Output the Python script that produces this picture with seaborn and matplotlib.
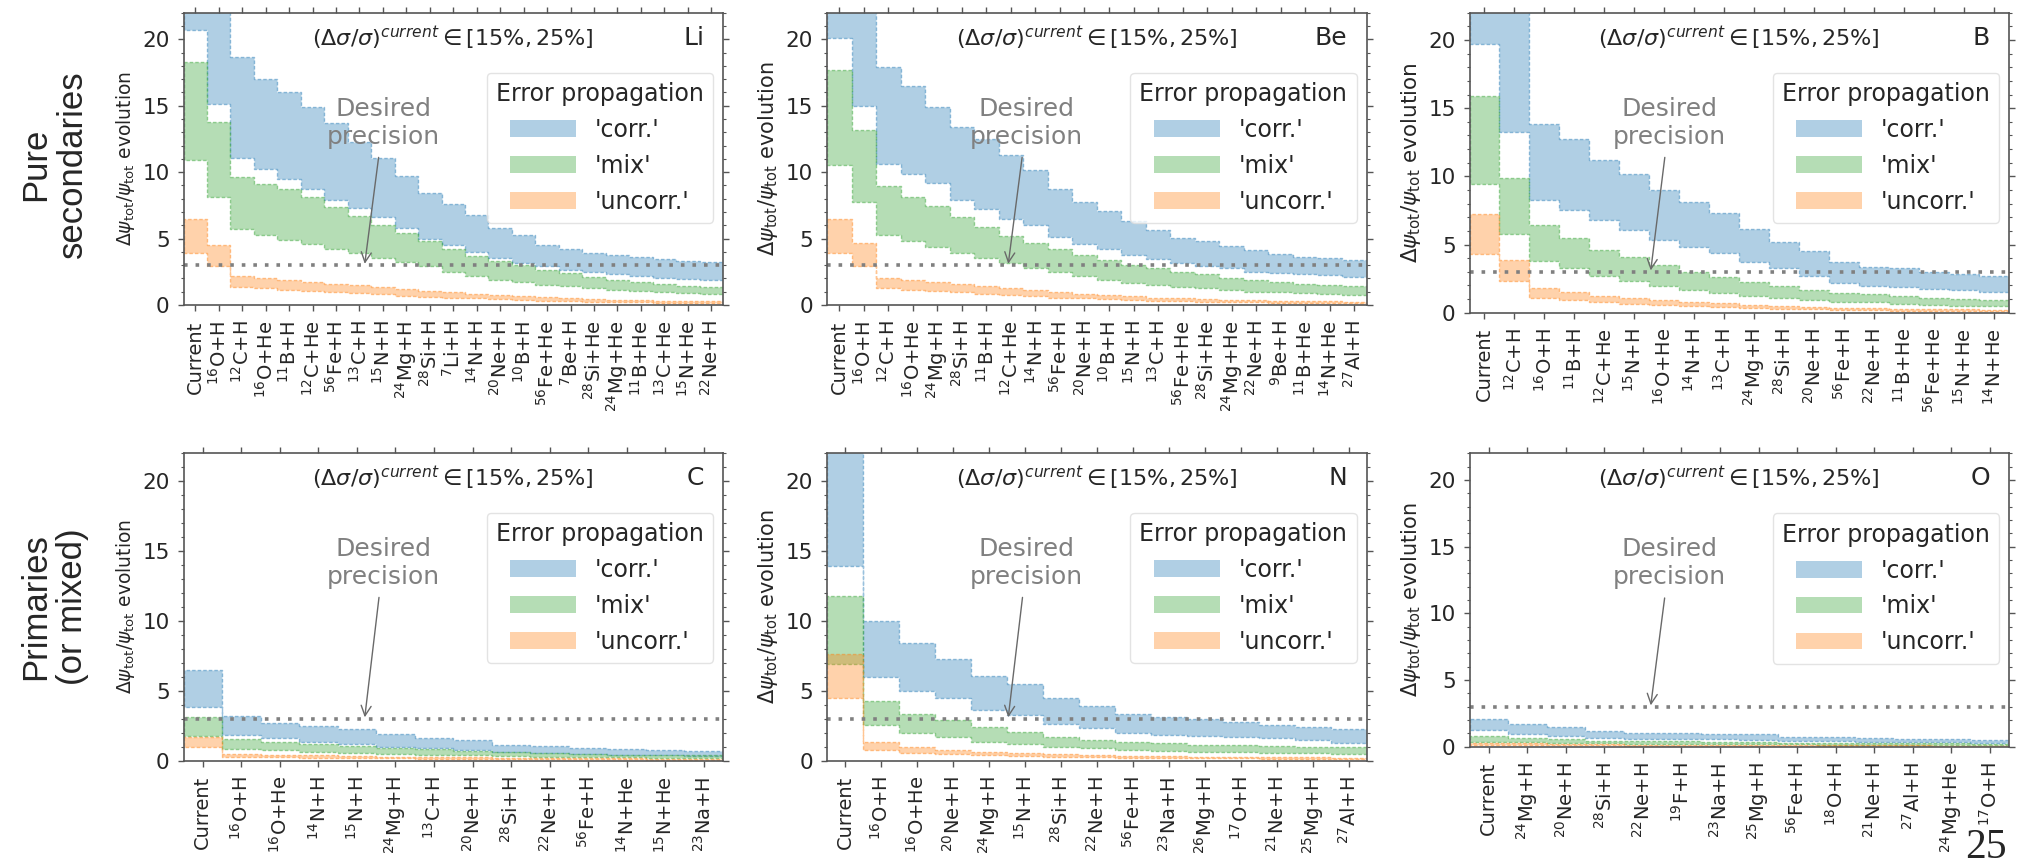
import re
import numpy as np
import matplotlib
matplotlib.use("Agg")
import matplotlib.pyplot as plt
import seaborn as sns
from matplotlib.colors import to_rgba
from matplotlib.patches import Patch
from matplotlib.ticker import MultipleLocator, AutoMinorLocator

# ---------------- data ----------------
li_labels = ['Current', '16O+H', '12C+H', '16O+He', '11B+H', '12C+He', '56Fe+H', '13C+H', '15N+H',
             '24Mg+H', '28Si+H', '7Li+H', '14N+H', '20Ne+H', '10B+H', '56Fe+He', '7Be+H', '28Si+He',
             '24Mg+He', '11B+He', '13C+He', '15N+He', '22Ne+H']
li_corr_hi = [23, 23, 18.7, 17.0, 16.0, 14.9, 13.7, 12.3, 11.1, 9.7, 8.4, 7.6, 6.75, 5.8, 5.25, 4.5, 4.2, 3.95, 3.75, 3.6, 3.45, 3.3, 3.2]
li_corr_lo = [20.7, 15.1, 11.1, 10.25, 9.5, 8.75, 7.9, 7.3, 6.6, 5.8, 5.0, 4.5, 4.0, 3.55, 3.15, 2.9, 2.65, 2.45, 2.3, 2.15, 2.05, 1.95, 1.85]
li_mix_hi = [18.3, 13.75, 9.6, 9.1, 8.75, 8.1, 7.4, 6.7, 6.0, 5.4, 4.8, 4.25, 3.7, 3.3, 3.0, 2.6, 2.4, 2.1, 1.9, 1.75, 1.6, 1.45, 1.35]
li_mix_lo = [10.9, 8.1, 5.7, 5.25, 4.9, 4.6, 4.25, 3.9, 3.5, 3.25, 2.9, 2.5, 2.2, 1.9, 1.75, 1.5, 1.4, 1.25, 1.1, 1.05, 1.0, 0.9, 0.85]
li_unc_hi = [6.5, 4.5, 2.2, 2.05, 1.9, 1.75, 1.6, 1.5, 1.35, 1.2, 1.05, 0.95, 0.85, 0.75, 0.65, 0.58, 0.5, 0.45, 0.4, 0.36, 0.33, 0.3, 0.28]
li_unc_lo = [3.9, 2.9, 1.35, 1.25, 1.15, 1.05, 0.95, 0.9, 0.8, 0.7, 0.6, 0.55, 0.5, 0.42, 0.38, 0.32, 0.28, 0.25, 0.22, 0.2, 0.18, 0.16, 0.15]

be_labels = ['Current', '16O+H', '12C+H', '16O+He', '24Mg+H', '28Si+H', '11B+H', '12C+He', '14N+H',
             '56Fe+H', '20Ne+H', '10B+H', '15N+H', '13C+H', '56Fe+He', '28Si+He', '24Mg+He', '22Ne+H',
             '9Be+H', '11B+He', '14N+He', '27Al+H']
be_corr_hi = [23, 23, 17.9, 16.5, 14.9, 13.4, 12.5, 11.3, 10.15, 8.7, 7.75, 7.1, 6.35, 5.65, 5.05, 4.85, 4.45, 4.15, 3.85, 3.65, 3.5, 3.4]
be_corr_lo = [20.1, 15.0, 10.65, 9.85, 9.2, 7.9, 7.2, 6.5, 6.0, 5.15, 4.6, 4.2, 3.75, 3.45, 3.15, 2.95, 2.75, 2.5, 2.4, 2.35, 2.25, 2.1]
be_mix_hi = [17.7, 13.15, 8.95, 8.15, 7.45, 6.65, 5.9, 5.2, 4.7, 4.2, 3.75, 3.4, 3.0, 2.75, 2.5, 2.35, 2.0, 1.85, 1.7, 1.6, 1.5, 1.4]
be_mix_lo = [10.5, 7.75, 5.25, 4.85, 4.35, 3.9, 3.5, 3.15, 2.75, 2.45, 2.15, 1.9, 1.65, 1.5, 1.35, 1.25, 1.15, 1.0, 0.95, 0.9, 0.85, 0.75]
be_unc_hi = [6.5, 4.7, 2.0, 1.85, 1.7, 1.55, 1.4, 1.25, 1.1, 0.95, 0.85, 0.75, 0.65, 0.55, 0.5, 0.45, 0.4, 0.36, 0.33, 0.3, 0.28, 0.26]
be_unc_lo = [3.9, 2.9, 1.25, 1.15, 1.05, 0.95, 0.85, 0.75, 0.65, 0.55, 0.5, 0.42, 0.36, 0.3, 0.27, 0.24, 0.21, 0.19, 0.17, 0.15, 0.14, 0.13]

b_labels = ['Current', '12C+H', '16O+H', '11B+H', '12C+He', '15N+H', '16O+He', '14N+H', '13C+H',
            '24Mg+H', '28Si+H', '20Ne+H', '56Fe+H', '22Ne+H', '11B+He', '56Fe+He', '15N+He', '14N+He']
b_corr_hi = [23, 23, 13.85, 12.75, 11.2, 10.2, 9.0, 8.1, 7.3, 6.15, 5.2, 4.55, 3.75, 3.35, 3.25, 3.0, 2.85, 2.7]
b_corr_lo = [19.7, 13.25, 8.25, 7.55, 6.8, 6.1, 5.35, 4.85, 4.4, 3.75, 3.25, 2.7, 2.2, 1.95, 1.9, 1.75, 1.65, 1.55]
b_mix_hi = [15.9, 9.9, 6.4, 5.45, 4.6, 4.05, 3.5, 3.0, 2.65, 2.25, 1.95, 1.7, 1.45, 1.35, 1.2, 1.1, 1.0, 0.9]
b_mix_lo = [9.45, 5.8, 3.8, 3.25, 2.7, 2.35, 1.95, 1.7, 1.45, 1.2, 1.05, 0.9, 0.8, 0.75, 0.65, 0.55, 0.5, 0.5]
b_unc_hi = [7.25, 3.9, 1.8, 1.5, 1.25, 1.1, 0.95, 0.8, 0.7, 0.6, 0.5, 0.43, 0.37, 0.33, 0.3, 0.27, 0.25, 0.23]
b_unc_lo = [4.3, 2.35, 1.05, 0.9, 0.75, 0.65, 0.55, 0.47, 0.4, 0.34, 0.28, 0.24, 0.2, 0.18, 0.16, 0.15, 0.13, 0.12]

c_labels = ['Current', '16O+H', '16O+He', '14N+H', '15N+H', '24Mg+H', '13C+H', '20Ne+H', '28Si+H',
            '22Ne+H', '56Fe+H', '14N+He', '15N+He', '23Na+H']
c_corr_hi = [6.5, 3.2, 2.7, 2.45, 2.25, 1.9, 1.65, 1.45, 1.15, 1.05, 0.9, 0.82, 0.77, 0.72]
c_corr_lo = [3.85, 1.85, 1.6, 1.35, 1.2, 1.0, 0.9, 0.75, 0.62, 0.52, 0.45, 0.4, 0.38, 0.35]
c_mix_hi = [3.1, 1.55, 1.35, 1.2, 1.05, 0.92, 0.82, 0.72, 0.62, 0.55, 0.48, 0.44, 0.41, 0.38]
c_mix_lo = [1.8, 0.85, 0.75, 0.65, 0.58, 0.5, 0.44, 0.38, 0.33, 0.29, 0.26, 0.24, 0.22, 0.2]
c_unc_hi = [1.7, 0.5, 0.42, 0.38, 0.34, 0.3, 0.27, 0.24, 0.21, 0.19, 0.17, 0.16, 0.15, 0.14]
c_unc_lo = [0.95, 0.28, 0.24, 0.21, 0.19, 0.17, 0.15, 0.13, 0.12, 0.1, 0.09, 0.09, 0.08, 0.08]

n_labels = ['Current', '16O+H', '16O+He', '20Ne+H', '24Mg+H', '15N+H', '28Si+H', '22Ne+H', '56Fe+H',
            '23Na+H', '26Mg+H', '17O+H', '21Ne+H', '25Mg+H', '27Al+H']
n_corr_hi = [23, 10.0, 8.4, 7.3, 6.05, 5.5, 4.45, 3.9, 3.35, 3.1, 2.95, 2.8, 2.55, 2.4, 2.25]
n_corr_lo = [13.9, 6.0, 5.0, 4.45, 3.65, 3.3, 2.65, 2.35, 2.0, 1.85, 1.75, 1.7, 1.6, 1.45, 1.3]
n_mix_hi = [11.8, 4.3, 3.35, 2.9, 2.4, 2.05, 1.7, 1.5, 1.35, 1.25, 1.15, 1.1, 1.05, 1.0, 0.95]
n_mix_lo = [6.9, 2.55, 1.95, 1.7, 1.35, 1.2, 1.0, 0.88, 0.75, 0.7, 0.65, 0.6, 0.57, 0.53, 0.48]
n_unc_hi = [7.6, 1.35, 0.95, 0.8, 0.65, 0.55, 0.45, 0.4, 0.34, 0.31, 0.29, 0.27, 0.25, 0.23, 0.21]
n_unc_lo = [4.5, 0.8, 0.55, 0.47, 0.38, 0.32, 0.26, 0.23, 0.2, 0.18, 0.17, 0.16, 0.15, 0.14, 0.12]

o_labels = ['Current', '24Mg+H', '20Ne+H', '28Si+H', '22Ne+H', '19F+H', '23Na+H', '25Mg+H', '56Fe+H',
            '18O+H', '21Ne+H', '27Al+H', '24Mg+He', '17O+H']
o_corr_hi = [2.1, 1.7, 1.45, 1.2, 1.05, 1.0, 0.95, 0.92, 0.75, 0.7, 0.66, 0.6, 0.55, 0.5]
o_corr_lo = [1.25, 0.95, 0.8, 0.67, 0.6, 0.57, 0.55, 0.53, 0.42, 0.4, 0.38, 0.35, 0.32, 0.3]
o_mix_hi = [0.8, 0.65, 0.55, 0.45, 0.42, 0.4, 0.38, 0.36, 0.31, 0.3, 0.28, 0.26, 0.24, 0.22]
o_mix_lo = [0.38, 0.32, 0.28, 0.24, 0.22, 0.21, 0.2, 0.19, 0.17, 0.16, 0.15, 0.14, 0.13, 0.12]
o_unc_hi = [0.3, 0.24, 0.2, 0.17, 0.16, 0.15, 0.14, 0.13, 0.11, 0.1, 0.1, 0.09, 0.08, 0.08]
o_unc_lo = [0.15, 0.12, 0.1, 0.09, 0.08, 0.08, 0.07, 0.07, 0.06, 0.06, 0.05, 0.05, 0.05, 0.04]

elements = ['Li', 'Be', 'B', 'C', 'N', 'O']
series_names = ["'corr.'", "'mix'", "'uncorr.'"]
desired_precision = 3.0
title_text = r'$(\Delta\sigma/\sigma)^{current} \in [15\%, 25\%]$'

# ---------------- style ----------------
sns.set_style("ticks")
plt.rcParams['font.family'] = ['DejaVu Sans']
plt.rcParams['mathtext.fontset'] = 'dejavusans'

W, H = 2034, 867
fig = plt.figure(figsize=(W / 100, H / 100), dpi=100)

colors = ['#1f77b4', '#2ca02c', '#ff7f0e']


def fmt_label(s):
    m = re.match(r'^(\d+)(.*)$', s)
    if m:
        return r'$^{%s}$%s' % (m.group(1), m.group(2))
    return s


def band(ax, lo, hi, color):
    lo = np.asarray(lo, float)
    hi = np.asarray(hi, float)
    xe = np.arange(len(lo) + 1) - 0.5
    ax.fill_between(xe, np.append(lo, lo[-1]), np.append(hi, hi[-1]), step='post',
                    facecolor=to_rgba(color, 0.35), edgecolor=to_rgba(color, 0.45),
                    linestyle=(0, (2.5, 1.5)), linewidth=1.0)


panels = [
    ('Li', li_labels, [(li_corr_lo, li_corr_hi), (li_mix_lo, li_mix_hi), (li_unc_lo, li_unc_hi)]),
    ('Be', be_labels, [(be_corr_lo, be_corr_hi), (be_mix_lo, be_mix_hi), (be_unc_lo, be_unc_hi)]),
    ('B', b_labels, [(b_corr_lo, b_corr_hi), (b_mix_lo, b_mix_hi), (b_unc_lo, b_unc_hi)]),
    ('C', c_labels, [(c_corr_lo, c_corr_hi), (c_mix_lo, c_mix_hi), (c_unc_lo, c_unc_hi)]),
    ('N', n_labels, [(n_corr_lo, n_corr_hi), (n_mix_lo, n_mix_hi), (n_unc_lo, n_unc_hi)]),
    ('O', o_labels, [(o_corr_lo, o_corr_hi), (o_mix_lo, o_mix_hi), (o_unc_lo, o_unc_hi)]),
]

# axes boxes in pixels: left, top, right, bottom
boxes = {
    'Li': (183.5, 12.7, 723, 305),
    'Be': (827, 12.7, 1366.5, 305),
    'B': (1469.5, 12.7, 2009, 312.7),
    'C': (183.5, 452.7, 723, 760.7),
    'N': (827, 452.7, 1366.5, 760.7),
    'O': (1469.5, 453.3, 2009, 746.7),
}
ylabel_size = {'Li': 13.5, 'Be': 15, 'B': 15.5, 'C': 13.5, 'N': 15, 'O': 15}

for name, labels, bands in panels:
    l, t, r, b = boxes[name]
    ax = fig.add_axes([l / W, 1 - b / H, (r - l) / W, (b - t) / H])
    hpx = b - t
    n = len(labels)
    for (lo, hi), c in zip(bands, colors):
        band(ax, lo, hi, c)
    ax.axhline(desired_precision, color='gray', ls=(0, (1, 2.2)), lw=2.6)
    ax.set_xlim(-0.5, n - 0.5)
    ax.set_ylim(0, 22)
    ax.set_xticks(np.arange(n))
    ax.set_xticklabels([fmt_label(s) for s in labels], rotation=90, fontsize=14)
    ax.yaxis.set_major_locator(MultipleLocator(5))
    ax.yaxis.set_minor_locator(AutoMinorLocator(5))
    ax.tick_params(axis='y', labelsize=15.5, pad=6)
    ax.tick_params(axis='x', pad=7)
    ax.tick_params(which='both', direction='out', top=True, right=True, color='#555555')
    ax.tick_params(which='major', length=4, width=1)
    ax.tick_params(which='minor', length=2.5, width=0.8)
    for sp in ax.spines.values():
        sp.set_color('#555555')
        sp.set_linewidth(1.2)
    ax.set_ylabel(r'$\Delta\psi_{\rm tot}/\psi_{\rm tot}$ evolution', fontsize=ylabel_size[name], labelpad=4)

    ty = 1 - 25 / hpx
    ax.text(0.5, ty, title_text, transform=ax.transAxes, ha='center', va='center', fontsize=16)
    ax.text(0.965, ty, name, transform=ax.transAxes, ha='right', va='center', fontsize=18)

    ax.annotate('Desired\nprecision', xy=(0.336, 3.1), xycoords=('axes fraction', 'data'),
                xytext=(0.37, 1 - 110 / hpx), textcoords='axes fraction',
                ha='center', va='center', color='gray', fontsize=18,
                arrowprops=dict(arrowstyle='->', color='dimgray', lw=1, shrinkA=4, shrinkB=0))

    handles = [Patch(facecolor=to_rgba(c, 0.35), edgecolor='none') for c in colors]
    leg_top = 1 - 60 / hpx
    leg = ax.legend(handles, series_names, title='Error propagation', loc='upper right',
                    bbox_to_anchor=(0.982, leg_top), borderaxespad=0, fontsize=17,
                    title_fontsize=17, handlelength=2.8, handleheight=0.7,
                    handletextpad=0.8, labelspacing=0.5, frameon=True)
    leg.get_frame().set_edgecolor('#dddddd')

fig.text(54 / W, 1 - 164 / H, 'Pure\nsecondaries', rotation=90, ha='center', va='center',
         fontsize=25, family='Liberation Sans', linespacing=1.15)
fig.text(54 / W, 1 - 607 / H, 'Primaries\n(or mixed)', rotation=90, ha='center', va='center',
         fontsize=25, family='Liberation Sans', linespacing=1.15)
fig.text(1986 / W, 1 - 848 / H, '25', ha='center', va='center', fontsize=30, family='Liberation Serif')

fig.savefig('out.png', dpi=100)
